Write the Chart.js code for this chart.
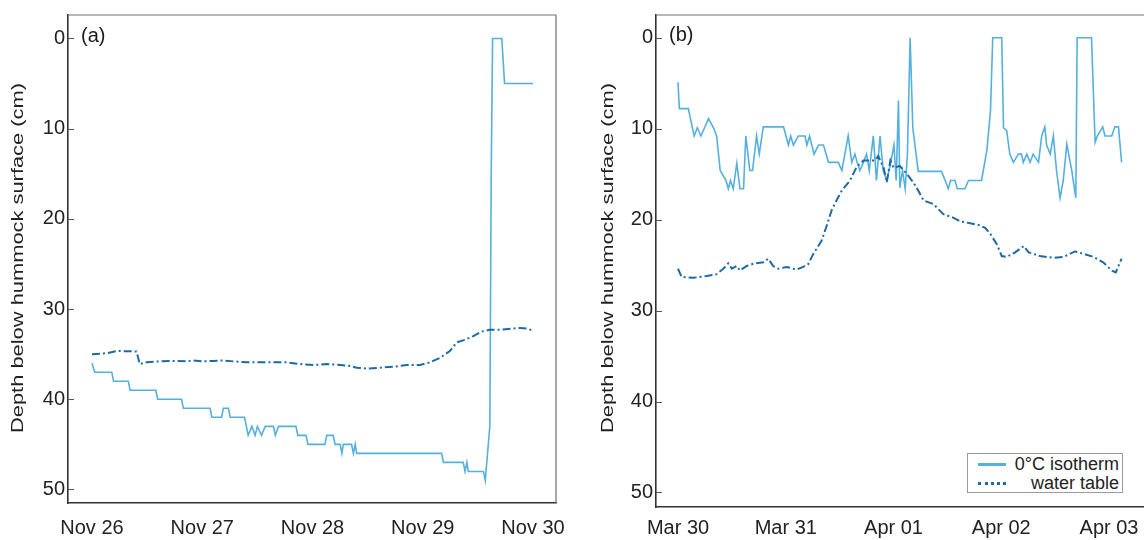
<!DOCTYPE html>
<html>
<head>
<meta charset="utf-8">
<script src="https://cdn.jsdelivr.net/npm/chart.js@4.4.0/dist/chart.umd.min.js"></script>
<style>
  html, body { margin: 0; padding: 0; background: #fff; overflow: hidden; width: 1144px; height: 540px; }
  #chartA { position: absolute; left: 0; top: 0; }
  #chartB { position: absolute; left: 590px; top: 0; }
  .legend {
    position: absolute; left: 967px; top: 453px; width: 156px; height: 40px;
    border: 1px solid #9a9a9a; background: #fff; box-sizing: border-box;
    font: 18px "Liberation Sans", Arial, sans-serif; color: #222;
  }
  .legend .row { position: absolute; left: 0; right: 3px; height: 20px; line-height: 20px; text-align: right; }
  .legend .sample { position: absolute; left: 10px; top: 9px; width: 28px; }
</style>
</head>
<body>
<canvas id="chartA" width="570" height="540"></canvas>
<canvas id="chartB" width="570" height="540"></canvas>
<div class="legend">
  <div class="row" style="top:0px"><span class="sample" style="border-top:3px solid #55b0e0"></span>0°C isotherm</div>
  <div class="row" style="top:19px"><span class="sample" style="border-top:3px dotted #1f6aa5"></span>water table</div>
</div>
<script>
// ---- data (hours since start of first day, depth in cm) ----
const dayTicks = [0, 24, 48, 72, 96];
const depthTicks = [0, 10, 20, 30, 40, 50];
const aDayLabels = ['Nov 26', 'Nov 27', 'Nov 28', 'Nov 29', 'Nov 30'];
const bDayLabels = ['Mar 30', 'Mar 31', 'Apr 01', 'Apr 02', 'Apr 03'];

// panel (a) 0°C isotherm
const aIsoHours = [0,0.6,4.3,4.7,7.9,8.3,13.9,14.3,19.5,19.9,25.7,26.1,28.2,28.6,29.7,30.1,33.2,34.0,34.8,35.5,
  36.0,36.9,37.7,39.5,39.9,40.6,44.4,44.8,46.6,47.0,50.7,51.1,52.5,52.9,54.0,54.4,54.7,56.5,56.9,57.3,
  57.6,76.1,76.5,80.8,81.2,81.6,81.9,85.2,85.6,86.6,86.9,87.2,89.2,89.8,96];
const aIsoDepth = [36,37,37,38,38,39,39,40,40,41,41,42,42,41,41,42,42,44,43,44,
  43,44,43,43,44,43,43,44,44,45,45,44,44,45,45,46,45,45,46,45,
  46,46,47,47,48,47,48,48,49,43,15,0,0,5,5];

// panel (a) water table
const aWtHours = [0,3.2,5.4,9.7,10.4,11.9,14.8,17.7,20.6,22.1,24.2,26.4,28.6,30.8,33.7,36.6,39.5,42.4,45.3,48.2,
  51.1,54.0,56.2,57.6,59.8,62.7,65.6,68.5,71.4,73.6,75.8,77.9,79.4,81.2,83.0,84.8,86.6,88.8,91.7,93.2,94.6,96.1];
const aWtDepth = [35.0,34.9,34.65,34.7,36.1,35.9,35.8,35.75,35.8,35.7,35.8,35.75,35.7,35.8,35.9,35.9,35.9,35.9,36.1,36.2,
  36.1,36.2,36.3,36.5,36.6,36.5,36.4,36.2,36.2,35.9,35.4,34.65,33.7,33.4,33.0,32.5,32.3,32.3,32.15,32.1,32.15,32.4];

// panel (b) 0°C isotherm
const bIsoHours = [0,0.3,2.3,3.6,4.3,5.1,6.8,7.9,8.6,9.4,10.7,11.2,11.7,12.3,13.1,13.8,14.6,15.1,16.0,16.6,
  17.5,18.1,19.0,23.5,24.6,25.1,25.7,26.8,28.3,28.7,29.3,30.3,31.3,32.4,33.5,35.7,36.5,37.9,38.7,39.4,
  39.9,40.5,41.3,42.0,42.6,43.5,44.2,45.0,45.7,46.5,47.4,48.1,48.6,49.1,49.4,50.0,50.6,51.1,51.7,52.3,
  53.5,58.7,59.5,60.2,60.7,61.7,62.2,63.9,64.7,67.6,68.8,69.6,70.1,72.1,72.5,73.2,73.9,74.7,75.8,76.5,
  76.9,77.7,78.4,79.1,80.3,81.0,81.7,82.1,82.9,83.6,84.3,85.1,85.8,86.6,87.7,88.6,88.9,92.1,92.9,93.4,
  94.6,95.1,96.6,97.3,98.1,98.8];
const bIsoDepth = [4.9,7.8,7.8,10.8,9.9,10.8,8.9,9.9,10.8,14.6,15.7,16.6,15.7,16.6,13.8,16.6,16.6,10.8,14.6,14.6,
  10.8,12.8,9.8,9.8,11.8,10.8,11.8,10.8,10.8,11.8,10.8,12.8,11.8,11.8,13.7,13.7,14.6,10.8,13.7,12.8,
  13.7,14.6,13.7,12.8,14.6,10.8,15.7,10.8,14.6,15.7,13.7,11.8,15.7,6.9,16.5,14.6,16.6,12.8,0,9.9,
  14.7,14.7,15.7,16.6,15.7,15.7,16.6,16.6,15.7,15.7,12.4,8.0,0,0,9.9,10.2,12.8,13.7,12.8,12.8,
  13.7,12.8,13.7,12.8,13.7,10.8,9.8,11.8,12.8,10.8,14.6,17.6,15.7,11.7,14.6,17.6,0,0,11.5,10.8,
  9.8,10.8,10.8,9.8,9.8,13.7];

// panel (b) water table
const bWtHours = [0,0.8,3.4,6.4,8.6,10.1,11.2,12.0,13.1,13.8,15.3,17.1,19.0,20.1,21.2,22.3,24.2,26.4,27.9,29.0,
  30.1,32.0,33.1,34.2,35.3,36.5,38.3,39.8,41.3,43.9,44.6,45.8,46.5,47.3,48.0,49.4,51.0,52.4,53.5,54.7,
  56.9,59.1,61.4,62.9,65.1,67.0,68.4,69.6,71.0,72.1,73.2,75.1,77.0,78.1,80.6,83.6,85.9,88.4,90.6,92.5,
  94.7,96.6,97.5,98.8];
const bWtDepth = [25.4,26.3,26.4,26.2,26.0,25.4,24.8,25.4,25.1,25.6,25.1,24.8,24.7,24.3,25.1,25.4,25.2,25.5,25.2,24.9,
  23.8,22.3,20.7,19.0,17.9,16.8,15.7,14.2,13.5,13.5,13.0,14.3,15.9,13.5,14.3,14.1,15.0,15.9,16.8,17.9,
  18.3,19.4,19.8,20.2,20.4,20.6,20.9,21.6,22.7,24.0,24.1,23.6,22.9,23.6,24.0,24.2,24.1,23.5,23.8,24.1,
  24.7,25.6,25.8,24.3];

const isoColor = '#55b0e0';
const wtColor = '#1f6aa5';
const FONT = '"Liberation Sans", Arial, sans-serif';

function pts(xs, ys) { return xs.map((x, i) => ({ x: x, y: ys[i] })); }

// frame top/right, inward y ticks, panel letter, y title
const framePlugin = {
  id: 'frame',
  afterDraw(chart, args, opts) {
    const { ctx, chartArea: a, scales } = chart;
    ctx.save();
    ctx.strokeStyle = '#707070';
    ctx.lineWidth = 1.2;
    ctx.beginPath();
    ctx.moveTo(a.left, a.top);
    ctx.lineTo(a.right, a.top);
    ctx.lineTo(a.right, a.bottom);
    ctx.stroke();

    ctx.strokeStyle = '#555';
    ctx.lineWidth = 1;
    depthTicks.forEach(v => {
      const py = Math.round(scales.y.getPixelForValue(v)) + 0.5;
      ctx.beginPath();
      ctx.moveTo(a.left, py);
      ctx.lineTo(a.left + 6, py);
      ctx.stroke();
    });

    ctx.fillStyle = '#1a1a1a';
    ctx.font = '20px ' + FONT;
    ctx.textBaseline = 'middle';
    ctx.textAlign = 'left';
    ctx.fillText(opts.letter, a.left + 13, scales.y.getPixelForValue(0) - 2);

    // axis title, stretched along its length like the reference
    ctx.translate(18.5, 258);
    ctx.rotate(-Math.PI / 2);
    ctx.font = '16px ' + FONT;
    ctx.textAlign = 'center';
    const txt = 'Depth below hummock surface (cm)';
    const w = ctx.measureText(txt).width;
    ctx.scale(350 / w, 1);
    ctx.fillStyle = '#222';
    ctx.fillText(txt, 0, 0);
    ctx.restore();
  }
};

function makeChart(id, o) {
  return new Chart(document.getElementById(id), {
    type: 'line',
    data: {
      datasets: [
        {
          label: 'water table',
          data: pts(o.wtHours, o.wtDepth),
          borderColor: wtColor,
          borderWidth: 2,
          borderDash: [8, 3, 2, 3],
          pointRadius: 0,
          tension: 0
        },
        {
          label: '0°C isotherm',
          data: pts(o.isoHours, o.isoDepth),
          borderColor: isoColor,
          borderWidth: 1.6,
          pointRadius: 0,
          tension: 0
        }
      ]
    },
    options: {
      responsive: false,
      animation: false,
      layout: { padding: { top: o.top, right: o.right, left: 0, bottom: 0 } },
      scales: {
        x: {
          type: 'linear',
          min: o.xMin,
          max: o.xMax,
          afterBuildTicks: s => { s.ticks = dayTicks.map(v => ({ value: v })); },
          afterFit: s => { s.height = o.xH; s.paddingLeft = 0; s.paddingRight = 0; },
          ticks: {
            padding: o.xPad,
            color: '#222',
            font: { family: FONT, size: 20 },
            maxRotation: 0,
            callback: v => o.labels[dayTicks.indexOf(v)]
          },
          grid: { display: false, drawTicks: false },
          border: { display: true, color: '#333', width: 1.6 }
        },
        y: {
          type: 'linear',
          reverse: true,
          min: o.yMin,
          max: o.yMax,
          afterBuildTicks: s => { s.ticks = depthTicks.map(v => ({ value: v })); },
          afterFit: s => { s.width = o.yW; },
          ticks: {
            padding: 3,
            color: '#222',
            font: { family: FONT, size: 20 }
          },
          grid: { display: false, drawTicks: false },
          border: { display: true, color: '#333', width: 1.6 }
        }
      },
      plugins: {
        legend: { display: false },
        tooltip: { enabled: false },
        frame: { letter: o.letter }
      }
    },
    plugins: [framePlugin]
  });
}

makeChart('chartA', {
  isoHours: aIsoHours, isoDepth: aIsoDepth, wtHours: aWtHours, wtDepth: aWtDepth,
  labels: aDayLabels, letter: '(a)',
  xMin: -5.22, xMax: 101.0, yMin: -2.6, yMax: 51.5,
  top: 12, right: 14, xH: 37, yW: 68, xPad: 13
});

makeChart('chartB', {
  isoHours: bIsoHours, isoDepth: bIsoDepth, wtHours: bWtHours, wtDepth: bWtDepth,
  labels: bDayLabels, letter: '(b)',
  xMin: -4.9, xMax: 105.57, yMin: -2.5, yMax: 51.6,
  top: 14, right: 8, xH: 33, yW: 66, xPad: 9
});
</script>
</body>
</html>
